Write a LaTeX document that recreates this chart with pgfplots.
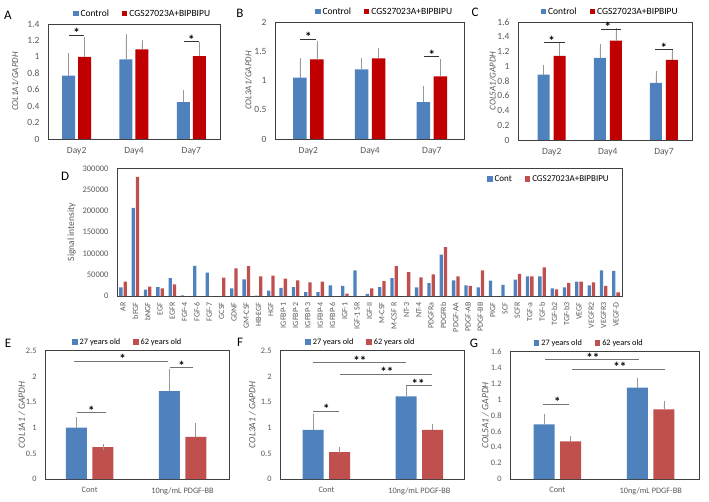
\documentclass[border=0pt]{standalone}
\usepackage{fontspec}
\setmainfont{Carlito}
\usepackage{pgfplots}
\pgfplotsset{compat=1.18}
\definecolor{xlblue}{HTML}{4F81BD}
\definecolor{xlred}{HTML}{C00000}
\definecolor{xlred2}{HTML}{C0504D}
\definecolor{tickgray}{HTML}{595959}

\tikzset{
  sig/.style={draw=black!80, line width=0.6pt},
  star/.style={font=\bfseries\fontsize{13}{13}\selectfont, anchor=base, inner sep=0pt, yshift=-2.5pt},
  lbl/.style={font=\fontsize{13}{14}\selectfont},
}
\pgfplotsset{
  panel/.style={
    scale only axis, ymin=0, clip=false,
    axis line style={black!75, line width=0.6pt},
    major tick length=0pt,
    tick label style={text=tickgray},
    /pgf/number format/assume math mode=true,
    /pgf/number format/fixed,
    scaled y ticks=false,
    yticklabel shift=5pt, xticklabel shift=5pt,
    legend style={draw=none, fill=none, inner sep=0pt, legend columns=2,
      /tikz/every even column/.append style={column sep=11pt}},
  },
  sq/.style={legend image code/.code={\fill[#1] (0pt,-2.7pt) rectangle (5.4pt,2.7pt);}},
  top/.style={panel, ytick distance=#1,
    tick label style={font=\fontsize{9.5}{10}\selectfont},
    legend style={font=\fontsize{9.5}{10}\selectfont},
    xmin=-0.5, xmax=2.5, xtick={0,1,2}, xticklabels={Day2,Day4,Day7},
    ylabel style={font=\itshape\fontsize{9}{9}\selectfont, text=tickgray, anchor=center}},
  bot/.style={panel, ytick distance=#1,
    tick label style={font=\fontsize{8.3}{9}\selectfont},
    legend style={font=\fontsize{8.3}{9}\selectfont},
    xmin=-0.5, xmax=1.5, xtick={0,1}, xticklabels={Cont,10ng/mL PDGF-BB},
    ybar=5.5pt, bar width=21pt,
    ylabel style={font=\itshape\fontsize{9.5}{10}\selectfont, text=tickgray, anchor=center}},
  eb/.style={/pgfplots/error bars/y dir=plus, /pgfplots/error bars/y explicit,
    /pgfplots/error bars/error bar style={black!40, line width=0.6pt},
    /pgfplots/error bars/error mark options={black!40, line width=0.6pt, mark size=3pt}},
}

\begin{document}
\begin{tikzpicture}
\useasboundingbox (0pt,0pt) rectangle (709pt,501pt);

% ---- panel letters
\node[lbl] at (8pt,486pt) {A};
\node[lbl] at (240pt,488pt) {B};
\node[lbl] at (475pt,489pt) {C};
\node[lbl] at (65pt,325pt) {D};
\node[lbl] at (8pt,158pt) {E};
\node[lbl] at (240pt,159pt) {F};
\node[lbl] at (474pt,158pt) {G};

% ---- A
\begin{axis}[top=0.2, at={(48pt,362pt)}, anchor=south west, width=172pt, height=115pt,
  ymax=1.4, ybar=3pt, bar width=13pt,
  ylabel={COL1A1/GAPDH}, ylabel style={at={(axis description cs:-0.19,0.5)}},
  legend style={at={(0.55,1)}, anchor=south, yshift=4pt}]
\addplot[fill=xlblue, draw=none, eb, sq=xlblue] coordinates {(0,0.77)+-(0,0.24) (1,0.97)+-(0,0.27) (2,0.45)+-(0,0.11)};
\addplot[fill=xlred, draw=none, eb, sq=xlred] coordinates {(0,1.00)+-(0,0.20) (1,1.09)+-(0,0.075) (2,1.01)+-(0,0.14)};
\legend{Control, CGS27023A+BIPBIPU}
\draw[sig] (axis cs:-0.13,1.26) -- (axis cs:0.13,1.26);
\node[star] at (axis cs:0,1.26) {*};
\draw[sig] (axis cs:1.87,1.185) -- (axis cs:2.13,1.185);
\node[star] at (axis cs:2,1.185) {*};
\end{axis}

% ---- B
\begin{axis}[top=0.5, at={(275pt,362pt)}, anchor=south west, width=189pt, height=117pt,
  ymax=2, ybar=3.3pt, bar width=13.7pt, xmin=-0.54, xmax=2.52,
  ylabel={COL3A1/GAPDH}, ylabel style={at={(axis description cs:-0.14,0.5)}},
  legend style={at={(0.58,1)}, anchor=south, yshift=4pt}]
\addplot[fill=xlblue, draw=none, eb, sq=xlblue] coordinates {(0,1.05)+-(0,0.28) (1,1.19)+-(0,0.15) (2,0.63)+-(0,0.22)};
\addplot[fill=xlred, draw=none, eb, sq=xlred] coordinates {(0,1.36)+-(0,0.26) (1,1.38)+-(0,0.12) (2,1.07)+-(0,0.24)};
\legend{Control, CGS27023A+BIPBIPU}
\draw[sig] (axis cs:-0.13,1.71) -- (axis cs:0.13,1.71);
\node[star] at (axis cs:0,1.71) {*};
\draw[sig] (axis cs:1.88,1.41) -- (axis cs:2.12,1.41);
\node[star] at (axis cs:2,1.41) {*};
\end{axis}

% ---- C
\begin{axis}[top=0.2, at={(518pt,361pt)}, anchor=south west, width=174pt, height=118pt,
  ymax=1.6, ybar=4pt, bar width=12pt, xmin=-0.6, xmax=2.5,
  ylabel={COL5A1/GAPDH}, ylabel style={at={(axis description cs:-0.145,0.5)}},
  legend style={at={(0.53,1)}, anchor=south, yshift=4pt}]
\addplot[fill=xlblue, draw=none, eb, sq=xlblue] coordinates {(0,0.885)+-(0,0.09) (1,1.115)+-(0,0.145) (2,0.775)+-(0,0.125)};
\addplot[fill=xlred, draw=none, eb, sq=xlred] coordinates {(0,1.14)+-(0,0.13) (1,1.346)+-(0,0.132) (2,1.088)+-(0,0.10)};
\legend{Control, CGS27023A+BIPBIPU}
\draw[sig] (axis cs:-0.14,1.32) -- (axis cs:0.24,1.32);
\node[star] at (axis cs:0,1.32) {*};
\draw[sig] (axis cs:0.87,1.505) -- (axis cs:1.24,1.505);
\node[star] at (axis cs:1,1.505) {*};
\draw[sig] (axis cs:1.84,1.224) -- (axis cs:2.16,1.224);
\node[star] at (axis cs:2,1.224) {*};
\end{axis}

% ---- D
\begin{axis}[panel, at={(117pt,205pt)}, anchor=south west, width=505pt, height=127.7pt,
  ymax=300000, ytick distance=50000,
  /pgf/number format/1000 sep={},
  yticklabel style={font=\fontsize{8.5}{9}\selectfont},
  xmin=-0.49, xmax=40.49, xtick={0,...,40},
  xticklabel style={rotate=90, anchor=east, font=\fontsize{8}{8}\selectfont},
  xticklabel shift=3pt,
  xticklabels={AR,bFGF,bNGF,EGF,EGFR,FGF-4,FGF-6,FGF-7,GCSF,GDNF,GM-CSF,HB-EGF,HGF,IGFBP-1,IGFBP-2,IGFBP-3,IGFBP-4,IGFBP-6,IGF-1,IGF-1 SR,IGF-II,M-CSF,M-CSF R,NT-3,NT-4,PDGFRa,PDGFRb,PDGF-AA,PDGF-AB,PDGF-BB,PIGF,SCF,SCFR,TGF-a,TGF-b,TGF-b2,TGF-b3,VEGF,VEGFR2,VEGFR3,VEGF-D},
  ybar=1pt, bar width=3.3pt,
  ylabel={Signal intensity}, ylabel style={at={(axis description cs:-0.09,0.5)}, anchor=center, font=\fontsize{9.5}{10}\selectfont, text=tickgray},
  legend style={at={(0.978,0.916)}, anchor=east, font=\fontsize{9}{10}\selectfont}]
\addplot[fill=xlblue, draw=none, sq=xlblue] coordinates {
 (0,20000) (1,207000) (2,15000) (3,21000) (4,42000) (5,1500) (6,71000) (7,55000) (8,0) (9,18000)
 (10,39000) (11,1000) (12,12500) (13,19000) (14,21000) (15,9000) (16,9000) (17,25000) (18,24000) (19,60000)
 (20,4700) (21,21000) (22,42000) (23,0) (24,20000) (25,30000) (26,97000) (27,37000) (28,25000) (29,20000)
 (30,36000) (31,26000) (32,38500) (33,46000) (34,46000) (35,18000) (36,20000) (37,34000) (38,25000) (39,60000) (40,59000)};
\addplot[fill=xlred2, draw=none, sq=xlred2] coordinates {
 (0,34000) (1,280000) (2,22000) (3,18000) (4,27500) (5,0) (6,0) (7,0) (8,43000) (9,65000)
 (10,70000) (11,46000) (12,48000) (13,41000) (14,37000) (15,32000) (16,34000) (17,0) (18,5500) (19,0)
 (20,18000) (21,35000) (22,70000) (23,56000) (24,44000) (25,51000) (26,115000) (27,46000) (28,24000) (29,60000)
 (30,0) (31,0) (32,52000) (33,46000) (34,67500) (35,15700) (36,31000) (37,34000) (38,32000) (39,24000) (40,8600)};
\legend{Cont, CGS27023A+BIPBIPU}
\end{axis}

% ---- E
\begin{axis}[bot=0.5, at={(45pt,22pt)}, anchor=south west, width=184pt, height=128.3pt,
  ymax=2.5, xmin=-0.48,
  ylabel={COL1A1 / GAPDH}, ylabel style={at={(axis description cs:-0.126,0.5)}},
  legend style={at={(0.45,1)}, anchor=south, yshift=3pt}]
\addplot[fill=xlblue, draw=none, eb, sq=xlblue] coordinates {(0,1.00)+-(0,0.14) (1,1.71)+-(0,0.38)};
\addplot[fill=xlred2, draw=none, eb, sq=xlred2] coordinates {(0,0.62)+-(0,0.01) (1,0.82)+-(0,0.21)};
\legend{27 years old, 62 years old}
\draw[sig, draw=black!55] (axis cs:-0.14,1.29) -- (axis cs:0.18,1.29);
\node[star] at (axis cs:0.02,1.29) {*};
\draw[sig, draw=black!55] (axis cs:-0.17,2.29) -- (axis cs:0.84,2.29);
\node[star] at (axis cs:0.355,2.29) {*};
\draw[sig, draw=black!55] (axis cs:0.86,2.17) -- (axis cs:1.11,2.17);
\node[star] at (axis cs:0.99,2.17) {*};
\end{axis}

% ---- F
\begin{axis}[bot=0.5, at={(280pt,22pt)}, anchor=south west, width=184pt, height=128.3pt,
  ymax=2.5, xmin=-0.5, xmax=1.48,
  ylabel={COL3A1 / GAPDH}, ylabel style={at={(axis description cs:-0.15,0.5)}},
  legend style={at={(0.44,1)}, anchor=south, yshift=3pt}]
\addplot[fill=xlblue, draw=none, eb, sq=xlblue] coordinates {(0,0.955)+-(0,0.245) (1,1.61)+-(0,0.16)};
\addplot[fill=xlred2, draw=none, eb, sq=xlred2] coordinates {(0,0.526)+-(0,0.04) (1,0.955)+-(0,0.055)};
\legend{27 years old, 62 years old}
\draw[sig, draw=black!55] (axis cs:-0.145,1.32) -- (axis cs:0.135,1.32);
\node[star] at (axis cs:0,1.32) {*};
\draw[sig, draw=black!55] (axis cs:-0.145,2.27) -- (axis cs:0.857,2.27);
\node[star] at (axis cs:0.36,2.27) {**};
\draw[sig, draw=black!55] (axis cs:0.145,2.04) -- (axis cs:1.137,2.04);
\node[star] at (axis cs:0.65,2.04) {**};
\draw[sig, draw=black!55] (axis cs:0.857,1.82) -- (axis cs:1.137,1.82);
\node[star] at (axis cs:0.986,1.82) {**};
\end{axis}

% ---- G
\begin{axis}[bot=0.2, at={(510pt,22pt)}, anchor=south west, width=189pt, height=127.3pt,
  ymax=1.6, xmin=-0.506, xmax=1.517,
  ylabel={COL5A1 / GAPDH}, ylabel style={at={(axis description cs:-0.13,0.5)}},
  legend style={at={(0.42,1)}, anchor=south, yshift=3pt}]
\addplot[fill=xlblue, draw=none, eb, sq=xlblue] coordinates {(0,0.687)+-(0,0.093) (1,1.15)+-(0,0.08)};
\addplot[fill=xlred2, draw=none, eb, sq=xlred2] coordinates {(0,0.473)+-(0,0.027) (1,0.875)+-(0,0.065)};
\legend{27 years old, 62 years old}
\draw[sig, draw=black!55] (axis cs:-0.153,0.94) -- (axis cs:0.125,0.94);
\node[star] at (axis cs:0,0.94) {*};
\draw[sig, draw=black!55] (axis cs:-0.13,1.50) -- (axis cs:0.875,1.50);
\node[star] at (axis cs:0.38,1.50) {**};
\draw[sig, draw=black!55] (axis cs:0.157,1.378) -- (axis cs:1.153,1.378);
\node[star] at (axis cs:0.67,1.378) {**};
\end{axis}
\end{tikzpicture}
\end{document}
